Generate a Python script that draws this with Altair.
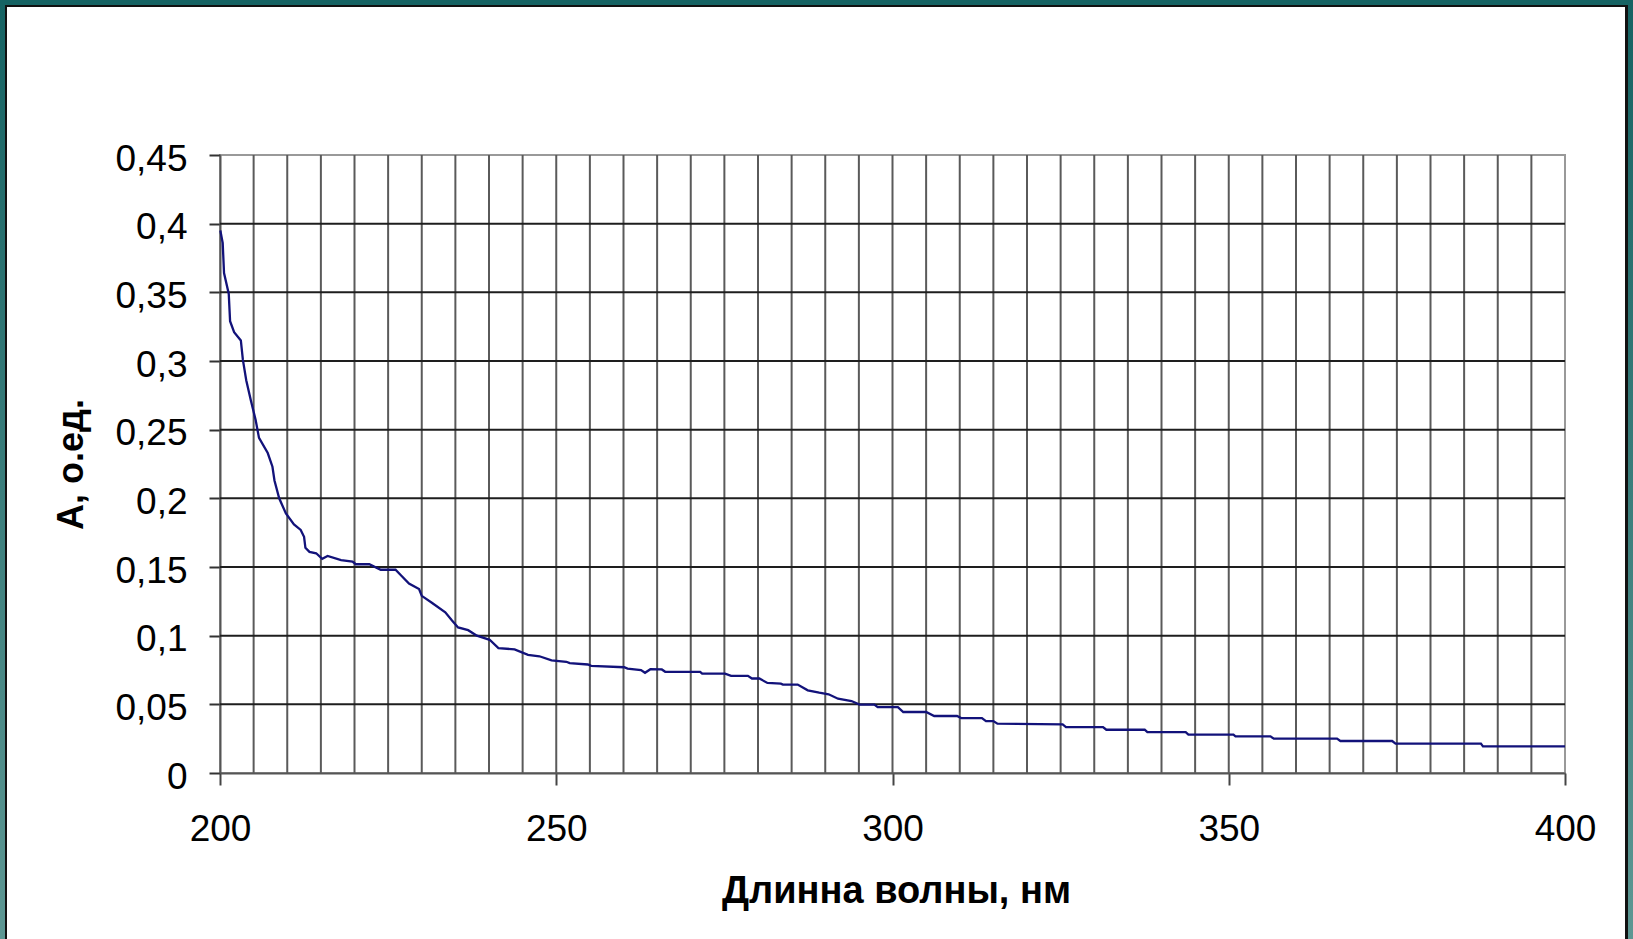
import altair as alt
import pandas as pd

# ---- data ----
wavelength = [200.05, 200.4, 200.6, 201.3, 201.5, 202.1, 203.1, 203.4, 203.9, 204.6,
              205.3, 205.8, 207.1, 207.8, 208.1, 208.8, 209.8, 211.0, 212.0, 212.5,
              212.7, 213.3, 214.3, 215.2, 216.0, 218.0, 219.7, 220.2, 222.2, 223.9,
              226.1, 226.9, 228.1, 229.6, 230.0, 231.5, 233.5, 234.5, 235.4, 236.9,
              238.2, 240.1, 241.4, 243.8, 245.8, 247.5, 249.3, 251.5, 252.0, 254.7,
              255.2, 260.1, 260.6, 262.6, 263.2, 264.0, 265.7, 266.2, 271.4, 271.7,
              275.1, 276.0, 278.5, 279.1, 280.2, 281.4, 283.4, 283.7, 285.9, 287.4,
              289.1, 290.5, 291.9, 293.9, 295.1, 297.3, 297.8, 300.8, 301.6, 305.0,
              306.2, 309.6, 310.2, 313.3, 313.9, 315.0, 315.6, 325.3, 325.8, 331.3,
              331.8, 337.5, 337.9, 343.6, 344.0, 350.7, 351.0, 356.2, 356.7, 366.1,
              366.6, 374.3, 374.8, 387.5, 387.8, 400.0]
absorbance = [0.395, 0.386, 0.364, 0.349, 0.329, 0.321, 0.315, 0.301, 0.286, 0.271,
              0.257, 0.244, 0.233, 0.223, 0.213, 0.200, 0.189, 0.181, 0.177, 0.172,
              0.164, 0.161, 0.160, 0.156, 0.158, 0.155, 0.154, 0.152, 0.152, 0.148,
              0.148, 0.144, 0.138, 0.134, 0.129, 0.124, 0.117, 0.111, 0.106, 0.104,
              0.100, 0.097, 0.091, 0.090, 0.086, 0.085, 0.082, 0.081, 0.080, 0.079,
              0.078, 0.077, 0.076, 0.075, 0.073, 0.0756, 0.0754, 0.0737, 0.0737, 0.0724,
              0.0724, 0.0707, 0.0707, 0.0688, 0.0688, 0.0656, 0.0651, 0.0644, 0.0644, 0.0602,
              0.0585, 0.0573, 0.0541, 0.0524, 0.0498, 0.0498, 0.048, 0.048, 0.0444, 0.0444,
              0.0415, 0.0415, 0.040, 0.040, 0.0378, 0.0378, 0.0359, 0.0354, 0.0334, 0.0334,
              0.0315, 0.0315, 0.0297, 0.0297, 0.0279, 0.0279, 0.0267, 0.0267, 0.025, 0.025,
              0.0233, 0.0233, 0.0214, 0.0214, 0.0194, 0.0194]

x_ticks = [200, 250, 300, 350, 400]
y_ticks = [0, 0.05, 0.1, 0.15, 0.2, 0.25, 0.3, 0.35, 0.4, 0.45]
grid_x = [205, 210, 215, 220, 225, 230, 235, 240, 245, 250, 255, 260, 265, 270, 275,
          280, 285, 290, 295, 300, 305, 310, 315, 320, 325, 330, 335, 340, 345, 350,
          355, 360, 365, 370, 375, 380, 385, 390, 395]
grid_y = [0.05, 0.1, 0.15, 0.2, 0.25, 0.3, 0.35, 0.4]

W, H = 1345, 618
FONT = "Liberation Sans"

df = pd.DataFrame({"nm": wavelength, "A": absorbance})
gx = pd.DataFrame({"nm": grid_x})
gy = pd.DataFrame({"A": grid_y})
one = pd.DataFrame({"k": [0]})

xscale = alt.Scale(domain=[200, 400], nice=False, zero=False)
yscale = alt.Scale(domain=[0, 0.45], nice=False, zero=False)

xaxis = alt.Axis(values=x_ticks, title="Длинна волны, нм", grid=False,
                 tickSize=12, tickColor="#444", tickWidth=2,
                 domainColor="#555", domainWidth=2,
                 labelFont=FONT, labelFontSize=37, labelColor="#000",
                 labelPadding=26, labelFlush=False, labelOverlap=False,
                 titleFont=FONT, titleFontSize=38, titleFontWeight="bold",
                 titleColor="#000", titleBaseline="alphabetic",
                 titleX=676, titleY=129)
yaxis = alt.Axis(values=y_ticks, title="А, о.ед.", grid=False,
                 tickSize=11, tickColor="#333", tickWidth=2,
                 domainColor="#555", domainWidth=2,
                 labelFont=FONT, labelFontSize=37, labelColor="#000",
                 labelPadding=22, labelOffset=4, labelOverlap=False,
                 labelExpr="replace(format(datum.value, '~g'), '.', ',')",
                 titleFont=FONT, titleFontSize=36, titleFontWeight="bold",
                 titleColor="#000", titleAngle=270, titleBaseline="alphabetic",
                 titleAlign="center", titleX=-138, titleY=309)

vgrid = alt.Chart(gx).mark_rule(color="#5a5a5a", strokeWidth=2).encode(
    x=alt.X("nm:Q", scale=xscale, axis=xaxis)
)
hgrid = alt.Chart(gy).mark_rule(color="#1e1e1e", strokeWidth=2).encode(
    y=alt.Y("A:Q", scale=yscale, axis=yaxis)
)
line = alt.Chart(df).mark_line(color="#12127a", strokeWidth=2.3).encode(
    x=alt.X("nm:Q", scale=xscale, axis=xaxis),
    y=alt.Y("A:Q", scale=yscale, axis=yaxis),
)

teal = alt.LinearGradient(
    gradient="linear",
    stops=[alt.GradientStop(color="#166363", offset=0),
           alt.GradientStop(color="#5d9793", offset=1)],
    x1=0, x2=0, y1=0, y2=1,
)
# decorative slide frame (teal band with dark inner line), in pixels relative to plot origin
left_band = alt.Chart(one).mark_rect(color=teal).encode(
    x=alt.value(-220), x2=alt.value(-215), y=alt.value(-155), y2=alt.value(784))
left_line = alt.Chart(one).mark_rect(color="#111").encode(
    x=alt.value(-215), x2=alt.value(-213), y=alt.value(-155), y2=alt.value(784))
top_band = alt.Chart(one).mark_rect(color="#166363").encode(
    x=alt.value(-220), x2=alt.value(1413), y=alt.value(-155), y2=alt.value(-150))
top_line = alt.Chart(one).mark_rect(color="#111").encode(
    x=alt.value(-213), x2=alt.value(1406), y=alt.value(-150), y2=alt.value(-148))
right_band = alt.Chart(one).mark_rect(color=teal).encode(
    x=alt.value(1408), x2=alt.value(1413), y=alt.value(-155), y2=alt.value(784))
right_line = alt.Chart(one).mark_rect(color="#111").encode(
    x=alt.value(1405), x2=alt.value(1408), y=alt.value(-150), y2=alt.value(784))

chart = alt.layer(
    vgrid, hgrid, line,
    left_band, left_line, top_band, top_line, right_band, right_line,
).properties(
    width=W, height=H,
    autosize=alt.AutoSizeParams(type="none"),
    padding={"left": 220, "top": 155, "right": 68, "bottom": 166},
    background="white",
).configure_view(
    stroke="#999", strokeWidth=2
)

chart.save("out.html", embed_options={"renderer": "svg", "actions": False})
